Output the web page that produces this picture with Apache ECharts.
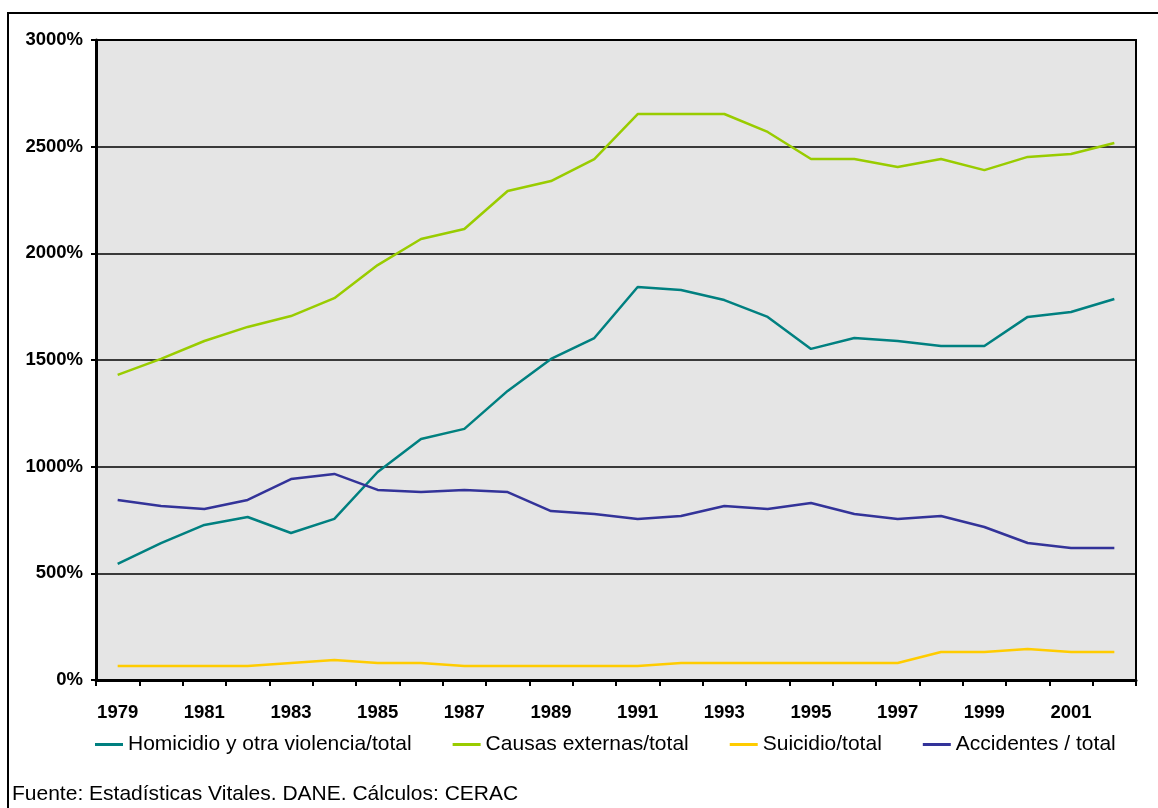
<!DOCTYPE html>
<html>
<head>
<meta charset="utf-8">
<script src="https://cdn.jsdelivr.net/npm/echarts@6/dist/echarts.min.js"></script>
<style>
  html, body { margin: 0; padding: 0; background: #fff; }
  #chart { width: 1158px; height: 808px; }
</style>
</head>
<body>
<div id="chart"></div>
<script>
// años
const years = ["1979","1980","1981","1982","1983","1984","1985","1986","1987","1988","1989","1990",
  "1991","1992","1993","1994","1995","1996","1997","1998","1999","2000","2001","2002"];

// series (%)
const homicidio = [544,642,727,764,689,755,975,1130,1177,1355,1505,1603,
  1842,1828,1781,1702,1552,1603,1589,1566,1566,1702,1725,1786];
const causasExternas = [1430,1505,1589,1655,1706,1790,1945,2067,2114,2292,2339,2442,
  2653,2653,2653,2569,2442,2442,2405,2442,2390,2452,2466,2517];
const suicidio = [66,66,66,66,80,94,80,80,66,66,66,66,
  66,80,80,80,80,80,80,131,131,145,131,131];
const accidentes = [844,816,802,844,942,966,891,881,891,881,792,778,
  755,769,816,802,830,778,755,769,717,642,619,619];

const yTicks = [0, 500, 1000, 1500, 2000, 2500, 3000];

const font = "'Liberation Sans', Arial, sans-serif";

function linea(name, data, color) {
  return {
    name: name,
    type: "line",
    data: data,
    symbol: "none",
    lineStyle: { color: color, width: 2.5 },
    itemStyle: { color: color },
    animation: false
  };
}

const chart = echarts.init(document.getElementById("chart"));
chart.setOption({
  backgroundColor: "#fff",
  textStyle: { fontFamily: font },
  grid: {
    left: 96, top: 40, right: 22, bottom: 128,
    show: true,
    backgroundColor: "#e5e5e5",
    borderColor: "#000",
    borderWidth: 2
  },
  legend: {
    left: 90, top: 729,
    icon: "rect",
    itemWidth: 28, itemHeight: 3,
    itemGap: 41,
    textStyle: { fontSize: 21, color: "#000", fontFamily: font },
    data: ["Homicidio y otra violencia/total", "Causas externas/total", "Suicidio/total", "Accidentes / total"]
  },
  xAxis: {
    type: "category",
    data: years,
    boundaryGap: true,
    axisLine: { lineStyle: { color: "#000", width: 3 } },
    axisTick: { show: true, interval: 0, length: 6, lineStyle: { color: "#000", width: 2 } },
    axisLabel: { interval: 1, margin: 23, fontSize: 18.5, fontWeight: "bold", color: "#000", fontFamily: font },
    splitLine: { show: false }
  },
  yAxis: {
    type: "value",
    min: yTicks[0], max: yTicks[yTicks.length - 1], interval: 500,
    axisLine: { show: true, lineStyle: { color: "#000", width: 3 } },
    axisTick: { show: true, length: 5, lineStyle: { color: "#000", width: 2 } },
    axisLabel: { margin: 13, fontSize: 18.5, fontWeight: "bold", color: "#000", fontFamily: font,
      formatter: function (v) { return v + "%"; } },
    splitLine: { show: true, lineStyle: { color: "#000", width: 1.5 } }
  },
  graphic: [
    {
      type: "rect",
      shape: { x: 8, y: 13, width: 1160, height: 820 },
      style: { fill: null, stroke: "#000", lineWidth: 2 },
      silent: true, z: -1
    },
    {
      type: "text",
      left: 12, top: 784,
      style: { text: "Fuente: Estadísticas Vitales. DANE. Cálculos: CERAC", fontSize: 21, fill: "#000", fontFamily: font }
    }
  ],
  series: [
    linea("Homicidio y otra violencia/total", homicidio, "#008080"),
    linea("Causas externas/total", causasExternas, "#99cc00"),
    linea("Suicidio/total", suicidio, "#ffcc00"),
    linea("Accidentes / total", accidentes, "#333399")
  ]
});
</script>
</body>
</html>
